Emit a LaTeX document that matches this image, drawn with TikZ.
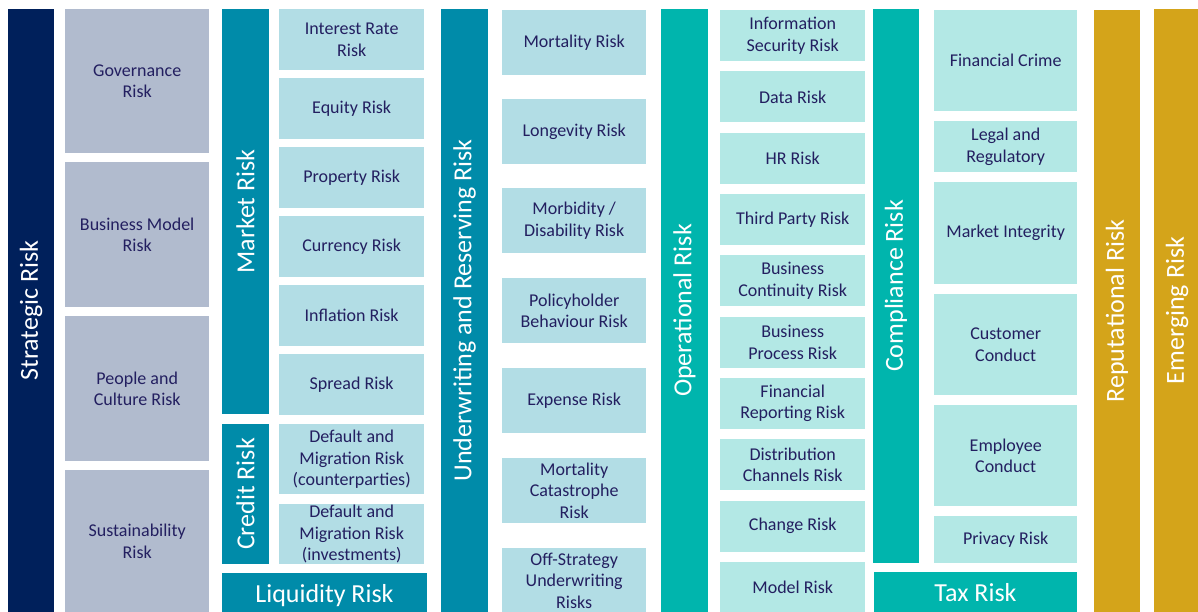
\documentclass[tikz,border=0pt]{standalone}
\usepackage{fontspec}
\setmainfont{Carlito}
\usepackage{tikz}

\definecolor{navy}{RGB}{0,32,91}
\definecolor{greybox}{RGB}{177,187,206}
\definecolor{tealdark}{RGB}{0,139,169}
\definecolor{bluelight}{RGB}{178,221,229}
\definecolor{tealgreen}{RGB}{0,181,173}
\definecolor{mintlight}{RGB}{179,232,229}
\definecolor{gold}{RGB}{212,164,26}
\definecolor{inktext}{RGB}{35,31,96}

\tikzset{
  riskbar/.style={fill=#1, text=white, inner sep=0pt, align=center,
    font=\fontsize{26}{30}\selectfont},
  vbar/.style={riskbar=#1, rotate=90},
  subrisk/.style={fill=#1, text=inktext, inner sep=0pt, align=center,
    anchor=north west, font=\fontsize{18}{21.5}\selectfont}
}

\begin{document}
\begin{tikzpicture}[x=1pt,y=-1pt]
\useasboundingbox (0,0) rectangle (1198,612);

% main categories
\node[vbar=navy, minimum width=603, minimum height=46] (strategic) at (31,310.5) {Strategic Risk};
\node[vbar=tealdark, minimum width=405, minimum height=47] (market) at (245.5,211.5) {Market Risk};
\node[vbar=tealdark, minimum width=140, minimum height=47] (credit) at (245.5,494) {Credit Risk};
\node[riskbar=tealdark, minimum width=205, minimum height=46] (liquidity) at (324.5,596) {Liquidity Risk};
\node[vbar=tealdark, minimum width=603, minimum height=47] (underwriting) at (464.5,310.5) {Underwriting and Reserving Risk};
\node[vbar=tealgreen, minimum width=603, minimum height=47] (operational) at (684.5,310.5) {Operational Risk};
\node[vbar=tealgreen, minimum width=554, minimum height=46] (compliance) at (896,286) {Compliance Risk};
\node[riskbar=tealgreen, minimum width=203, minimum height=42] (tax) at (975.5,593) {Tax Risk};
\node[vbar=gold, minimum width=602, minimum height=46] (reputational) at (1117,311) {Reputational Risk};
\node[vbar=gold, minimum width=603, minimum height=46] (emerging) at (1177,310.5) {Emerging Risk};

% strategic
\foreach \y/\h/\txt [count=\i] in {9/144/{Governance\\Risk}, 162/145/{Business Model\\Risk},
    316/145/{People and\\Culture Risk}, 470/142/{Sustainability\\Risk}}
  \node[subrisk=greybox, minimum width=144, minimum height=\h] (strat\i) at (65,\y) {\txt};

% market and credit
\foreach \y/\txt [count=\i] in {9/{Interest Rate\\Risk}, 78/{Equity Risk}, 147/{Property Risk},
    216/{Currency Risk}, 285/{Inflation Risk}, 354/{Spread Risk}}
  \node[subrisk=bluelight, minimum width=145, minimum height=61] (mkt\i) at (279,\y) {\txt};
\node[subrisk=bluelight, minimum width=145, minimum height=70] (cred1) at (279,424)
  {Default and\\Migration Risk\\(counterparties)};
\node[subrisk=bluelight, minimum width=145, minimum height=60] (cred2) at (279,504)
  {Default and\\Migration Risk\\(investments)};

% underwriting
\foreach \y/\txt [count=\i] in {10/{Mortality Risk}, 99/{Longevity Risk}, 188/{Morbidity /\\Disability Risk},
    278/{Policyholder\\Behaviour Risk}, 368/{Expense Risk}, 458/{Mortality\\Catastrophe\\Risk},
    548/{Off-Strategy\\Underwriting\\Risks}}
  \node[subrisk=bluelight, minimum width=144, minimum height=65] (uw\i) at (502,\y) {\txt};

% operational
\foreach \txt [count=\i from 0] in {{Information\\Security Risk}, {Data Risk}, {HR Risk}, {Third Party Risk},
    {Business\\Continuity Risk}, {Business\\Process Risk}, {Financial\\Reporting Risk},
    {Distribution\\Channels Risk}, {Change Risk}, {Model Risk}}
  \node[subrisk=mintlight, minimum width=145, minimum height=51] (op\i) at (720,10+61.3*\i) {\txt};

% compliance
\foreach \y/\h/\txt [count=\i] in {10/101/{Financial Crime}, 121/51/{Legal and\\Regulatory},
    182/102/{Market Integrity}, 294/101/{Customer\\Conduct}, 405/101/{Employee\\Conduct},
    516/47/{Privacy Risk}}
  \node[subrisk=mintlight, minimum width=143, minimum height=\h] (comp\i) at (934,\y) {\txt};
\end{tikzpicture}
\end{document}
